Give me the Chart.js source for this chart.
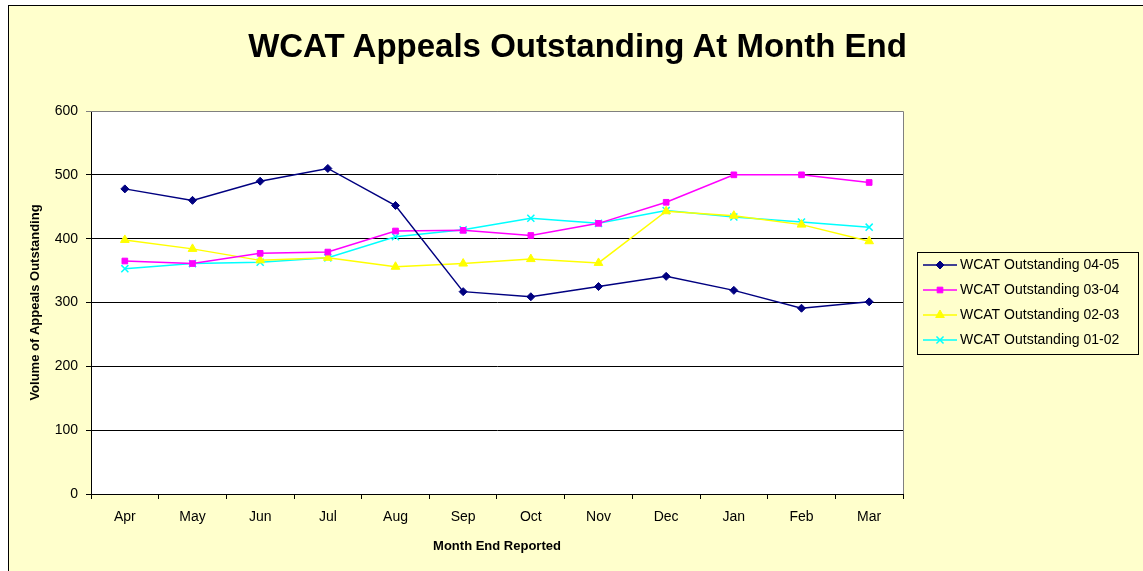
<!DOCTYPE html>
<html>
<head>
<meta charset="utf-8">
<script src="https://cdn.jsdelivr.net/npm/chart.js@4/dist/chart.umd.min.js"></script>
<style>
  html, body { margin: 0; padding: 0; background: #fff; }
  #frame { position: absolute; left: 8px; top: 5px; width: 1200px; height: 600px;
           background: #FFFFCC; border-left: 1px solid #000; border-top: 1px solid #000; }
  #wrap { position: absolute; left: 0; top: 0; width: 1143px; height: 571px; }
  #title { position: absolute; left: 0; top: 26px; width: 1155px; text-align: center;
           font: bold 33px 'Liberation Sans', Arial, sans-serif; color: #000; line-height: 40px; }
</style>
</head>
<body>
<div id="frame"></div>
<div id="wrap"><canvas id="wcatChart" width="1143" height="571"></canvas></div>
<div id="title">WCAT Appeals Outstanding At Month End</div>
<script>
// Data
const months = ['Apr', 'May', 'Jun', 'Jul', 'Aug', 'Sep', 'Oct', 'Nov', 'Dec', 'Jan', 'Feb', 'Mar'];
const outstanding0405 = [478, 460, 490, 510, 452, 317, 309, 325, 341, 319, 291, 301];
const outstanding0304 = [365, 361, 377, 379, 412, 413, 405, 424, 457, 500, 500, 488];
const outstanding0203 = [398, 384, 366, 370, 356, 361, 368, 362, 443, 436, 422, 396];
const outstanding0102 = [353, 361, 363, 370, 403, 414, 432, 424, 444, 434, 426, 418];
const yTicks = [0, 100, 200, 300, 400, 500, 600];

const FONT = "'Liberation Sans', Arial, sans-serif";

// legend box on the right + grey plot border (top/right)
const frameAndLegend = {
    id: 'frameAndLegend',
    afterDraw(chart) {
        const ctx = chart.ctx;
        const a = chart.chartArea;
        ctx.save();
        ctx.strokeStyle = '#808080';
        ctx.lineWidth = 1;
        ctx.beginPath();
        ctx.moveTo(a.left, a.top + 0.5);
        ctx.lineTo(a.right + 0.5, a.top + 0.5);
        ctx.lineTo(a.right + 0.5, a.bottom);
        ctx.stroke();

        // legend
        const lx = 917, ly = 252, lw = 221, lh = 102;
        ctx.fillStyle = '#FFFFCC';
        ctx.fillRect(lx, ly, lw, lh);
        ctx.strokeStyle = '#000';
        ctx.strokeRect(lx + 0.5, ly + 0.5, lw, lh);
        ctx.font = '14px ' + FONT;
        ctx.textBaseline = 'middle';
        chart.data.datasets.forEach(function(ds, i) {
            const y = 265 + i * 25;
            ctx.strokeStyle = ds.borderColor;
            ctx.lineWidth = 1.5;
            ctx.beginPath();
            ctx.moveTo(923, y);
            ctx.lineTo(957, y);
            ctx.stroke();
            ctx.fillStyle = ds.borderColor;
            ctx.strokeStyle = ds.borderColor;
            ctx.lineWidth = ds.pointBorderWidth;
            Chart.helpers.drawPoint(ctx, {
                pointStyle: ds.pointStyle,
                radius: ds.pointRadius,
                borderWidth: ds.pointBorderWidth,
                rotation: 0
            }, 940, y);
            ctx.fillStyle = '#000';
            ctx.fillText(ds.label, 960, y);
        });
        ctx.restore();
    }
};

const ctx = document.getElementById('wcatChart').getContext('2d');
function series(label, data, color, style, radius) {
    return {
        label: label,
        data: data,
        borderColor: color,
        backgroundColor: color,
        pointBackgroundColor: color,
        pointBorderColor: color,
        pointStyle: style,
        pointRadius: radius,
        pointHoverRadius: radius,
        pointBorderWidth: style === 'crossRot' ? 1.5 : 1,
        borderWidth: 1.5,
        tension: 0,
        fill: false
    };
}

new Chart(ctx, {
    type: 'line',
    data: {
        labels: months,
        datasets: [
            series('WCAT Outstanding 04-05', outstanding0405, '#000080', 'rectRot', 4),
            series('WCAT Outstanding 03-04', outstanding0304, '#FF00FF', 'rect', 4),
            series('WCAT Outstanding 02-03', outstanding0203, '#FFFF00', 'triangle', 5),
            series('WCAT Outstanding 01-02', outstanding0102, '#00FFFF', 'crossRot', 5)
        ]
    },
    options: {
        responsive: false,
        animation: false,
        layout: { padding: { left: 0, right: 240, top: 111, bottom: 0 } },
        plugins: {
            legend: { display: false },
            tooltip: { enabled: false },
            title: { display: false }
        },
        scales: {
            x: {
                offset: true,
                grid: { offset: true, drawOnChartArea: false, drawTicks: true, tickLength: 5, color: '#000' },
                border: { color: '#000', width: 1 },
                ticks: { color: '#000', font: { family: FONT, size: 14 }, padding: 10, maxRotation: 0 },
                title: {
                    display: true,
                    text: 'Month End Reported',
                    color: '#000',
                    font: { family: FONT, size: 13, weight: 'bold' },
                    padding: { top: 17, bottom: 17 }
                },
                afterFit(scale) { scale.height = 77; }
            },
            y: {
                min: 0,
                max: 600,
                afterBuildTicks(scale) { scale.ticks = yTicks.map(v => ({ value: v })); },
                grid: {
                    color: c => (c.tick && c.tick.value === 600 ? '#808080' : '#000'),
                    tickLength: 5,
                    lineWidth: 1
                },
                border: { color: '#000', width: 1 },
                ticks: { color: '#000', font: { family: FONT, size: 14 }, padding: 8 },
                title: {
                    display: true,
                    text: 'Volume of Appeals Outstanding',
                    color: '#000',
                    font: { family: FONT, size: 13, weight: 'bold' },
                    padding: { top: 28, bottom: 28 }
                },
                afterFit(scale) { scale.width = 91; }
            }
        }
    },
    plugins: [
        {
            id: 'plotBg',
            beforeDraw(chart) {
                const a = chart.chartArea;
                chart.ctx.save();
                chart.ctx.fillStyle = '#fff';
                chart.ctx.fillRect(a.left, a.top, a.right - a.left, a.bottom - a.top);
                chart.ctx.restore();
            }
        },
        frameAndLegend
    ]
});
</script>
</body>
</html>
